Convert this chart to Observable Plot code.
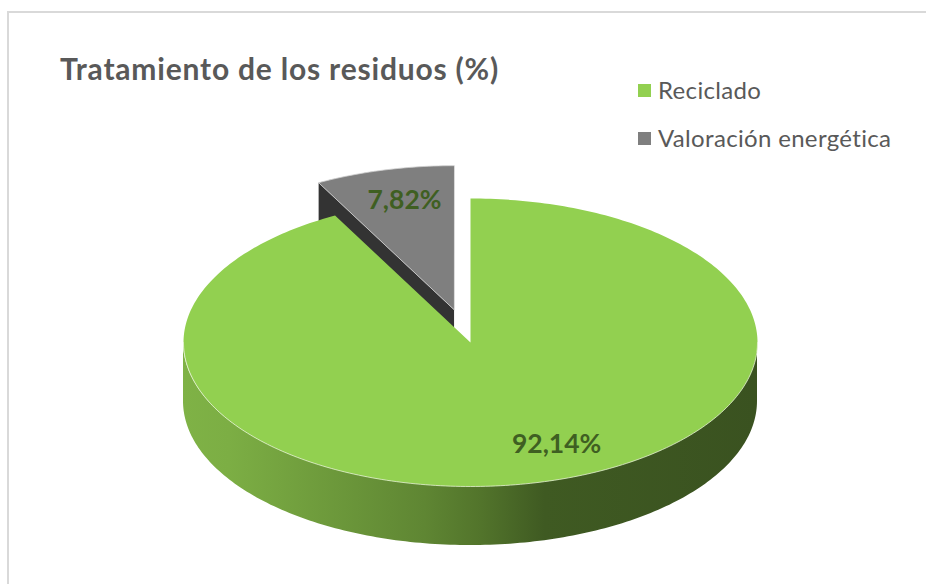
<!DOCTYPE html>
<html lang="es">
<head>
<meta charset="utf-8">
<script src="https://cdn.jsdelivr.net/npm/d3@7"></script>
<script src="https://cdn.jsdelivr.net/npm/@observablehq/plot@0.6"></script>
<style>
  html, body { margin: 0; padding: 0; background: #fff; overflow: hidden; }
  #chart { position: relative; width: 926px; height: 584px; font-family: Lato, sans-serif; }
  #frame { position: absolute; left: 7px; top: 11px; right: -4px; bottom: -4px; border: 2px solid #d9d9d9; }
  #chart svg { position: absolute; left: 0; top: 0; }
  #title { position: absolute; left: 60px; top: 50px; margin: 0; font-size: 30px; line-height: 36px; font-weight: 700; color: #595959; letter-spacing: .8px; white-space: nowrap; }
  .key { position: absolute; left: 638px; display: flex; align-items: center; font-size: 24px; line-height: 30px; color: #595959; letter-spacing: .33px; white-space: nowrap; }
  .key i { display: block; width: 13px; height: 13px; margin-right: 7px; }
</style>
</head>
<body>
<div id="chart">
  <div id="frame"></div>
</div>
<script>
const chartTitle = "Tratamiento de los residuos (%)";
const categories = ["Reciclado", "Valoración energética"];
const shares = [92.14, 7.82];
const shareLabels = ["92,14%", "7,82%"];
const topColors = ["#92D050", "#7F7F7F"];
const edgeColor = "#333333";
const labelColor = "#3F5F22";

// Pie geometry, in pie radii (1 = radius of the flattened disc)
const depth = 0.41;       // thickness of the disc
const explode = 0.235;    // pull of the exploded slice
const pxX = 287, pxY = 144, cxPx = 470, cyPx = 342;

const total = d3.sum(shares);
const greenSweep = shares[0] / total * 360;
const rad = (a) => a * Math.PI / 180;
const onRim = (a, ox = 0, oy = 0, drop = 0) => ({x: ox + Math.sin(rad(a)), y: oy + Math.cos(rad(a)) - drop});

// Green slice: clockwise from 12 o'clock
const greenRim = d3.range(0, greenSweep, 1).concat(greenSweep).map((a) => onRim(a));
const greenTop = [{x: 0, y: 0}, ...greenRim];

// Side wall of the green slice (front half only)
const frontAngles = d3.range(90, 271, 1);
const wall = frontAngles.map((a) => {
  const p = onRim(a);
  return {x: p.x, y: p.y, yb: p.y - depth};
});

// Grey slice: exploded along its bisector
const greyMid = greenSweep + (360 - greenSweep) / 2;
const ox = explode * Math.sin(rad(greyMid));
const oy = explode * Math.cos(rad(greyMid));
const greyRim = d3.range(greenSweep, 360, 1).concat(360).map((a) => onRim(a, ox, oy));
const greyTop = [{x: ox, y: oy}, ...greyRim];

// Dark cut face of the grey slice
const greyLeft = onRim(greenSweep, ox, oy);
const greyFace = [
  {x: ox, y: oy},
  greyLeft,
  {x: greyLeft.x, y: greyLeft.y - depth},
  {x: ox, y: oy - depth}
];

const labelTable = [
  {label: shareLabels[0], x: 0.30, y: -0.708},
  {label: shareLabels[1], x: -0.23, y: 0.986}
];

const gradient = () => {
  const ns = "http://www.w3.org/2000/svg";
  const defs = document.createElementNS(ns, "defs");
  const g = document.createElementNS(ns, "linearGradient");
  g.setAttribute("id", "sideGrad");
  [["0%", "#7FB246"], ["8%", "#7CAE44"], ["42%", "#5F8633"], ["52%", "#52742B"], ["63%", "#3F5A22"], ["100%", "#3A5220"]].forEach(([o, c]) => {
    const s = document.createElementNS(ns, "stop");
    s.setAttribute("offset", o);
    s.setAttribute("stop-color", c);
    g.appendChild(s);
  });
  defs.appendChild(g);
  return defs;
};

const plot = Plot.plot({
  width: 926,
  height: 584,
  margin: 0,
  style: {background: "transparent"},
  x: {axis: null, domain: [-cxPx / pxX, (926 - cxPx) / pxX], range: [0, 926]},
  y: {axis: null, domain: [(cyPx - 584) / pxY, cyPx / pxY], range: [584, 0]},
  marks: [
    gradient,
    Plot.line(greyFace, {x: "x", y: "y", curve: "linear-closed", fill: edgeColor, stroke: "none"}),
    Plot.line(greyTop, {x: "x", y: "y", curve: "linear-closed", fill: topColors[1], stroke: "#D0D0D0", strokeWidth: 0.8}),
    Plot.areaY(wall, {x: "x", y1: "y", y2: "yb", fill: "url(#sideGrad)"}),
    Plot.line(greenTop, {x: "x", y: "y", curve: "linear-closed", fill: topColors[0], stroke: "none"}),
    Plot.line(wall, {x: "x", y: "y", stroke: "#E4F1D2", strokeWidth: 0.8}),
    Plot.text(labelTable, {
      x: "x", y: "y", text: "label", fill: labelColor,
      fontFamily: "Lato, sans-serif", fontWeight: 700, fontSize: 26.5
    })
  ]
});

const chart = document.getElementById("chart");
chart.appendChild(plot);

const h = document.createElement("h1");
h.id = "title";
h.textContent = chartTitle;
chart.appendChild(h);

categories.forEach((c, i) => {
  const k = document.createElement("div");
  k.className = "key";
  k.style.top = (75 + i * 48) + "px";
  const sw = document.createElement("i");
  sw.style.background = topColors[i];
  k.appendChild(sw);
  k.appendChild(document.createTextNode(c));
  chart.appendChild(k);
});
</script>
</body>
</html>
